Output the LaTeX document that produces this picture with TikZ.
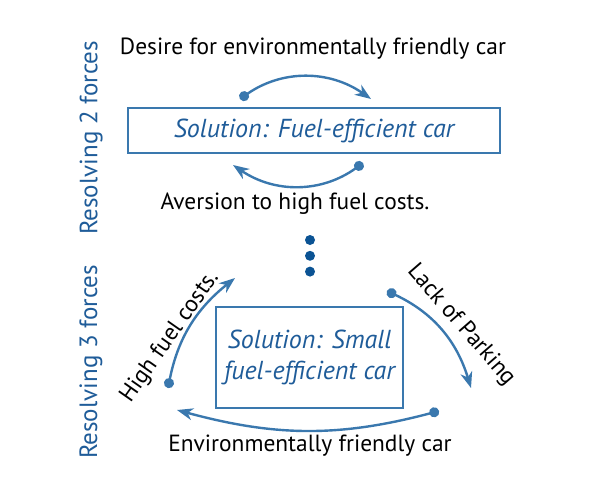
\documentclass[tikz,border=0pt]{standalone}
\usepackage{fontspec}
\setmainfont{PT Sans}
\usetikzlibrary{positioning,arrows.meta}
\definecolor{forceblue}{HTML}{3A78AE}
\definecolor{textblue}{HTML}{1F5C99}
\definecolor{dotblue}{HTML}{0B5394}
\tikzstyle{solution}=[rectangle, draw=forceblue, line width=1.3pt, text=textblue,
        font=\itshape\fontsize{13}{15.5}\selectfont, align=center, inner sep=0pt]
\tikzstyle{label}=[text=black, font=\fontsize{11.7}{14}\selectfont, inner sep=0pt]
\tikzstyle{side}=[text=textblue, rotate=90, font=\fontsize{12.5}{15}\selectfont, inner sep=0pt]
\tikzstyle{force}=[draw=forceblue, line width=1.2pt,
        {Circle[length=5pt]}-{Stealth[length=8pt,width=6pt,inset=2.5pt]}]
\tikzstyle{ellipsis}=[circle, fill=dotblue, minimum size=5pt, inner sep=0pt]

\begin{document}
\begin{tikzpicture}[x=0.5pt, y=0.5pt]
\useasboundingbox (0,0) rectangle (600,500);

% two forces
\node (Desire) [label] at (313,451) {Desire for environmentally friendly car};
\node (FuelCar) [solution, minimum width=186pt, minimum height=22.5pt] at (314,369.5) {Solution: Fuel-efficient car};
\node (Aversion) [label] at (295,296) {Aversion to high fuel costs.};
\coordinate (desireA) at (240,401);
\coordinate (desireB) at (371,401);
\coordinate (aversionA) at (363,337);
\coordinate (aversionB) at (233,335);
\draw[force] (desireA) to[bend left=35] (desireB);
\draw[force] (aversionA) to[bend left=35] (aversionB);

% dots
\node (dotA) [ellipsis] at (310,260) {};
\node (dotB) [ellipsis, below=2.5pt of dotA] {};
\node (dotC) [ellipsis, below=2.5pt of dotB] {};

% three forces
\node (SmallCar) [solution, minimum width=93.5pt, minimum height=50.5pt] at (309.5,142.5) {Solution: Small\\fuel-efficient car};
\node (HighFuel) [label, rotate=55] at (170,163) {High fuel costs.};
\node (Parking) [label, rotate=-49] at (461,175) {Lack of Parking};
\node (EnvCar) [label] at (310,54) {Environmentally friendly car};
\coordinate (highA) at (168,112);
\coordinate (highB) at (235,222);
\coordinate (parkA) at (387,209);
\coordinate (parkB) at (471,112);
\coordinate (envA) at (439,89);
\coordinate (envB) at (177,90);
\draw[force] (highA) to[bend left=20] (highB);
\draw[force] (parkA) to[bend left=24] (parkB);
\draw[force] (envA) to[bend left=15] (envB);

% side labels
\node (TwoForces) [side] at (91,362) {Resolving 2 forces};
\node (ThreeForces) [side] at (91,138) {Resolving 3 forces};

\end{tikzpicture}
\end{document}
